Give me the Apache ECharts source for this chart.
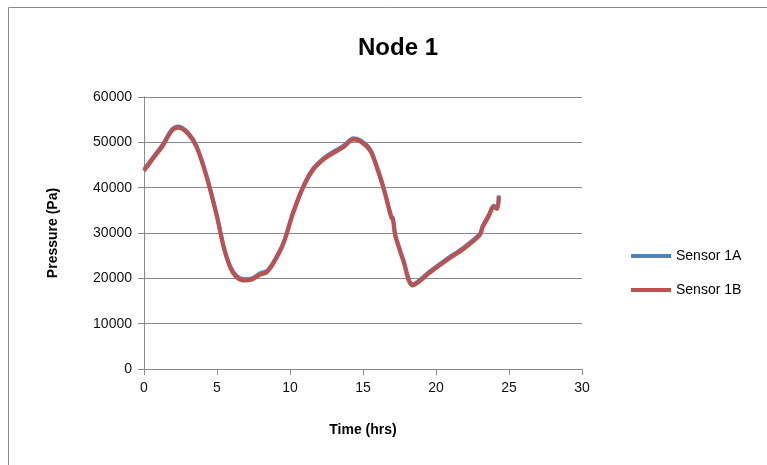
<!DOCTYPE html>
<html>
<head>
<meta charset="utf-8">
<script src="https://cdn.jsdelivr.net/npm/echarts@6/dist/echarts.min.js"></script>
<style>html,body{margin:0;padding:0;background:#fff}#c{width:767px;height:465px}</style>
</head>
<body>
<div id="c"></div>
<script>
var timeHrs = [0, 0.6, 1.3, 1.9, 2.35, 3.0, 3.6, 4.3, 5.0, 5.45, 5.9, 6.35, 6.9, 7.4, 7.95, 8.4, 8.85, 9.55, 10.2, 10.9, 11.6, 12.3, 12.75, 13.65, 14.35, 14.9, 15.5, 15.95, 16.4, 16.75, 16.95, 17.05, 17.2, 17.45, 17.75, 18.4, 19.6, 20.7, 21.9, 23.0, 23.2, 23.6, 23.95, 24.2, 24.3];
var sensor1B = [43700, 46300, 49300, 52500, 53200, 51900, 48900, 42200, 33500, 26900, 22400, 20200, 19500, 19700, 20800, 21300, 23200, 27600, 34200, 40000, 44000, 46200, 47200, 48900, 50600, 50000, 48100, 44400, 39900, 35600, 33300, 33000, 29500, 26800, 23900, 18400, 21300, 23900, 26500, 29500, 31300, 33600, 35700, 35300, 38000];
var sensor1A = [44000, 46600, 49600, 52800, 53500, 52200, 49200, 42500, 33800, 27200, 22700, 20500, 19800, 20000, 21100, 21600, 23500, 27900, 34500, 40300, 44300, 46500, 47500, 49200, 50900, 50300, 48400, 44700, 40200, 35900, 33600, 33300, 29800, 27100, 24200, 18700, 21600, 24200, 26800, 29800, 31600, 33900, 36000, 35600, 38300];
var yTicks = [0, 10000, 20000, 30000, 40000, 50000, 60000];
var xTicks = [0, 5, 10, 15, 20, 25, 30];

function pairs(xs, ys) { return xs.map(function (x, i) { return [x, ys[i]]; }); }

var chart = echarts.init(document.getElementById('c'));
var font = 'Liberation Sans, Arial, sans-serif';
chart.setOption({
  animation: false,
  textStyle: { fontFamily: font },
  graphic: [{
    type: 'rect', shape: { x: 8.5, y: 7.5, width: 800, height: 500 },
    style: { fill: 'none', stroke: '#8a8a8a', lineWidth: 1 }, silent: true
  }],
  title: {
    text: 'Node 1', left: 393, top: 31, textAlign: 'center',
    textStyle: { fontSize: 24, fontWeight: 'bold', color: '#000', fontFamily: font }
  },
  grid: { left: 144, top: 97, right: 185, bottom: 96 },
  legend: {
    orient: 'vertical', left: 626, top: 244, itemGap: 20,
    itemWidth: 40, itemHeight: 4, icon: 'rect',
    textStyle: { fontSize: 14, color: '#000', fontFamily: font },
    data: ['Sensor 1A', 'Sensor 1B']
  },
  xAxis: {
    type: 'value', min: xTicks[0], max: xTicks[xTicks.length - 1], interval: 5,
    name: 'Time (hrs)', nameLocation: 'middle', nameGap: 54,
    nameTextStyle: { fontSize: 14, fontWeight: 'bold', color: '#000' },
    axisLine: { lineStyle: { color: '#8a8a8a', width: 1 } },
    axisTick: { show: true, length: 6, lineStyle: { color: '#8a8a8a' } },
    axisLabel: { fontSize: 14, color: '#111', margin: 12 },
    splitLine: { show: false }
  },
  yAxis: {
    type: 'value', min: yTicks[0], max: yTicks[yTicks.length - 1], interval: 10000,
    name: 'Pressure (Pa)', nameLocation: 'middle', nameGap: 84,
    nameTextStyle: { fontSize: 14, fontWeight: 'bold', color: '#000' },
    axisLine: { show: true, lineStyle: { color: '#8a8a8a', width: 1 } },
    axisTick: { show: true, length: 6, lineStyle: { color: '#8a8a8a' } },
    axisLabel: { fontSize: 14, color: '#111', margin: 12, formatter: function (v) { return String(v); } },
    splitLine: { show: true, lineStyle: { color: '#8a8a8a', width: 1 } }
  },
  series: [
    { name: 'Sensor 1A', type: 'line', data: pairs(timeHrs, sensor1A), showSymbol: false, smooth: 0.3,
      lineStyle: { width: 4, color: '#4F81BD' }, itemStyle: { color: '#4F81BD' } },
    { name: 'Sensor 1B', type: 'line', data: pairs(timeHrs, sensor1B), showSymbol: false, smooth: 0.3,
      lineStyle: { width: 4, color: '#C0504D' }, itemStyle: { color: '#C0504D' } }
  ]
});
</script>
</body>
</html>
